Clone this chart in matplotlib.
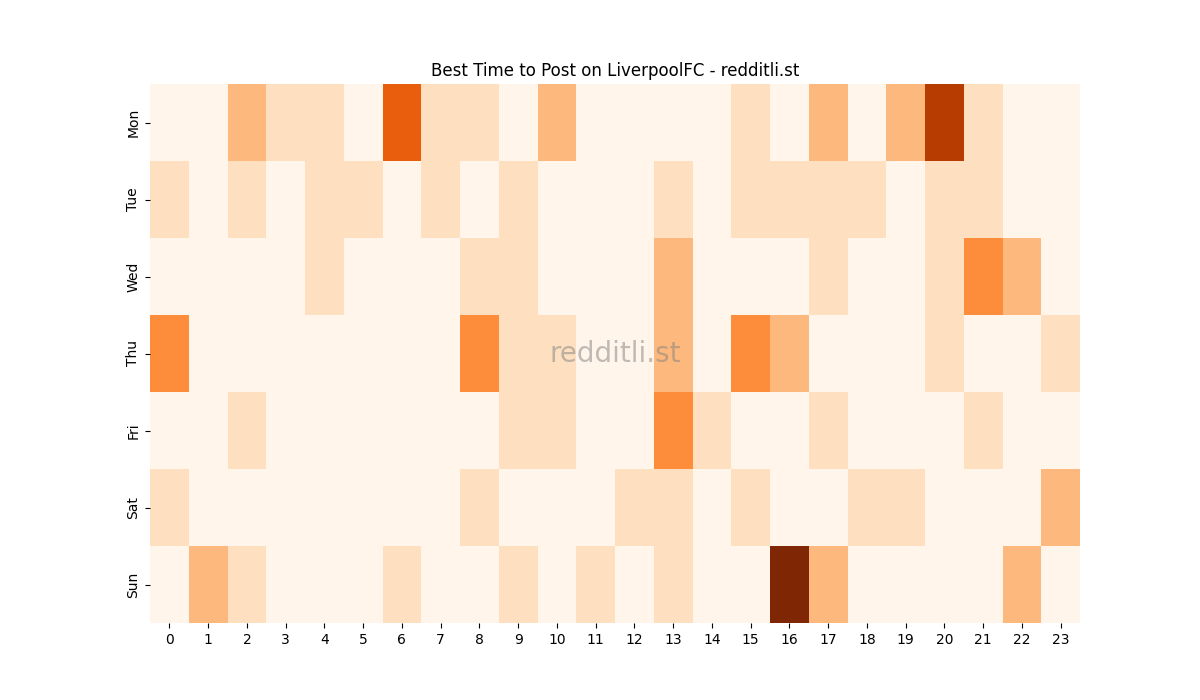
import matplotlib
matplotlib.use("Agg")
import matplotlib.pyplot as plt
import seaborn as sns
import numpy as np

days = ["Mon", "Tue", "Wed", "Thu", "Fri", "Sat", "Sun"]
hours = list(range(24))

mon = [0, 0, 2, 1, 1, 0, 4, 1, 1, 0, 2, 0, 0, 0, 0, 1, 0, 2, 0, 2, 5, 1, 0, 0]
tue = [1, 0, 1, 0, 1, 1, 0, 1, 0, 1, 0, 0, 0, 1, 0, 1, 1, 1, 1, 0, 1, 1, 0, 0]
wed = [0, 0, 0, 0, 1, 0, 0, 0, 1, 1, 0, 0, 0, 2, 0, 0, 0, 1, 0, 0, 1, 3, 2, 0]
thu = [3, 0, 0, 0, 0, 0, 0, 0, 3, 1, 1, 0, 0, 2, 0, 3, 2, 0, 0, 0, 1, 0, 0, 1]
fri = [0, 0, 1, 0, 0, 0, 0, 0, 0, 1, 1, 0, 0, 3, 1, 0, 0, 1, 0, 0, 0, 1, 0, 0]
sat = [1, 0, 0, 0, 0, 0, 0, 0, 1, 0, 0, 0, 1, 1, 0, 1, 0, 0, 1, 1, 0, 0, 0, 2]
sun = [0, 2, 1, 0, 0, 0, 1, 0, 0, 1, 0, 1, 0, 1, 0, 0, 6, 2, 0, 0, 0, 0, 2, 0]

grid = np.array([mon, tue, wed, thu, fri, sat, sun])

fig, ax = plt.subplots(figsize=(12, 7), dpi=100)
sns.heatmap(grid, cmap="Oranges", cbar=False, xticklabels=hours, yticklabels=days, ax=ax)
ax.set_title("Best Time to Post on LiverpoolFC - redditli.st")
ax.text(0.5, 0.5, "redditli.st", transform=ax.transAxes, ha="center", va="center",
        fontsize=20, color="gray", alpha=0.5)
plt.setp(ax.get_yticklabels(), rotation=90, va="center")
plt.setp(ax.get_xticklabels(), rotation=0)

plt.savefig("out.png", dpi=100)
plt.close(fig)
